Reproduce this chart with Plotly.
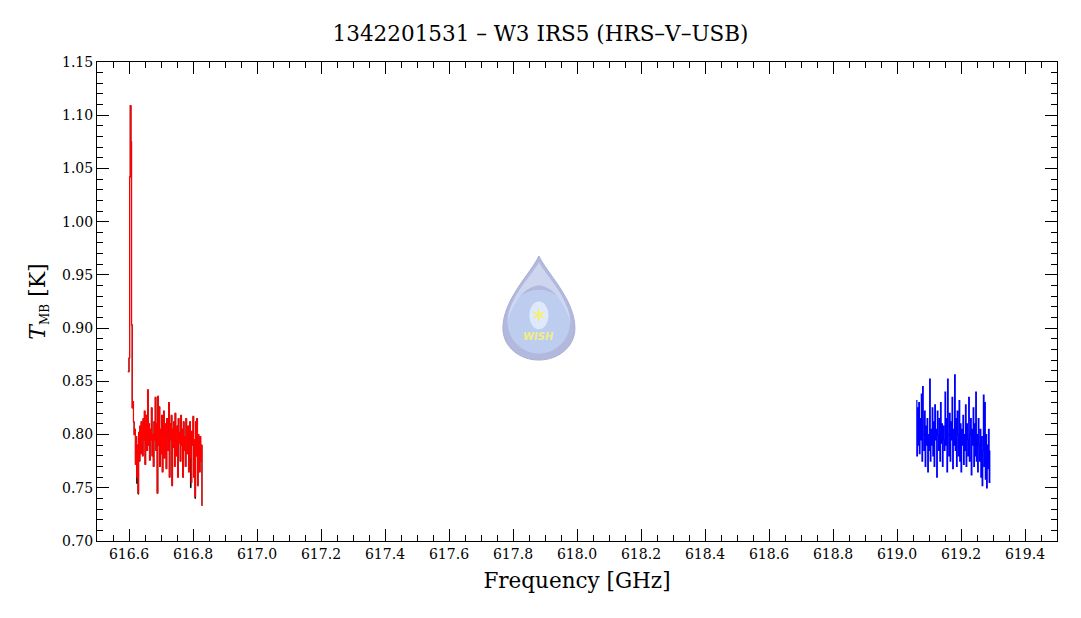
import plotly.graph_objects as go

# ---------------- data ----------------
red_start = 616.598
blue_start = 619.060
chan_step = 0.002

red_vals = [
    0.859, 0.872, 1.042, 1.109, 1.075, 0.903, 0.825, 0.831, 0.812, 0.800,
    0.805, 0.772, 0.798, 0.760, 0.790, 0.745, 0.802, 0.775, 0.808, 0.782, 0.812, 0.790,
    0.780, 0.815, 0.795, 0.822, 0.772, 0.800, 0.818, 0.785, 0.842, 0.790, 0.810, 0.776,
    0.805, 0.795, 0.825, 0.780, 0.800, 0.770, 0.812,
    0.795, 0.835, 0.785, 0.810, 0.745, 0.836, 0.790, 0.826, 0.770, 0.805, 0.782, 0.818,
    0.765, 0.800, 0.822, 0.778, 0.810, 0.790, 0.768, 0.815,
    0.800, 0.785, 0.830, 0.760, 0.810, 0.795, 0.818, 0.752, 0.805, 0.788, 0.812, 0.770,
    0.820, 0.795, 0.780, 0.808, 0.760, 0.815, 0.792, 0.802,
    0.775, 0.818, 0.790, 0.805, 0.760, 0.812, 0.785, 0.798, 0.770, 0.815, 0.800, 0.782,
    0.808, 0.765, 0.795, 0.812, 0.778, 0.755, 0.803, 0.790,
    0.817, 0.760, 0.795, 0.742, 0.812, 0.780, 0.815, 0.752, 0.800, 0.788, 0.765, 0.798,
    0.775, 0.790, 0.733,
]

blue_vals = [
    0.832, 0.780, 0.825, 0.790, 0.830, 0.782, 0.815, 0.795, 0.838, 0.775, 0.845, 0.800,
    0.785, 0.822, 0.770, 0.808, 0.790, 0.815, 0.765, 0.800,
    0.785, 0.852, 0.775, 0.805, 0.790, 0.825, 0.780, 0.812, 0.770, 0.828, 0.795, 0.805,
    0.760, 0.822, 0.800, 0.785, 0.815, 0.775, 0.830, 0.792,
    0.810, 0.770, 0.808, 0.795, 0.785, 0.840, 0.790, 0.815, 0.765, 0.852, 0.800, 0.780,
    0.820, 0.775, 0.812, 0.795, 0.835, 0.768, 0.805, 0.790,
    0.856, 0.785, 0.815, 0.770, 0.822, 0.800, 0.780, 0.832, 0.775, 0.810, 0.765, 0.805,
    0.790, 0.818, 0.772, 0.800, 0.785, 0.828, 0.770, 0.810,
    0.795, 0.780, 0.835, 0.775, 0.800, 0.815, 0.762, 0.805, 0.790, 0.825, 0.770, 0.810,
    0.780, 0.840, 0.775, 0.800, 0.765, 0.815, 0.790, 0.775,
    0.805, 0.760, 0.798, 0.752, 0.785, 0.837, 0.770, 0.830, 0.758, 0.800, 0.750, 0.790,
    0.768, 0.805, 0.755, 0.785,
]

# underlying black spectrum: same channels, with a few deeper channels
black_dips = [(13, 0.754), (15, 0.744), (97, 0.750), (104, 0.740)]

x_ticks = [616.6, 616.8, 617.0, 617.2, 617.4, 617.6, 617.8, 618.0, 618.2, 618.4,
           618.6, 618.8, 619.0, 619.2, 619.4]
y_ticks = [0.70, 0.75, 0.80, 0.85, 0.90, 0.95, 1.00, 1.05, 1.10, 1.15]

title_text = "1342201531 – W3 IRS5 (HRS–V–USB)"

# ---------------- build ----------------
red_x = [round(red_start + i * chan_step, 4) for i in range(len(red_vals))]
blue_x = [round(blue_start + i * chan_step, 4) for i in range(len(blue_vals))]
black_vals = list(red_vals)
for i, v in black_dips:
    black_vals[i] = v
black_x = [round(red_start - chan_step, 4)] + red_x
black_vals = [red_vals[0]] + black_vals

SERIF = "DejaVu Serif, serif"

fig = go.Figure()
fig.add_trace(go.Scatter(x=black_x, y=black_vals, mode="lines", line=dict(color="black", width=1, shape="hv"),
                         hoverinfo="skip", showlegend=False))
fig.add_trace(go.Scatter(x=red_x, y=red_vals, mode="lines", line=dict(color="red", width=1.2, shape="hv"),
                         showlegend=False))
fig.add_trace(go.Scatter(x=blue_x, y=blue_vals, mode="lines", line=dict(color="blue", width=1.2, shape="hv"),
                         showlegend=False))

# WISH logo (decoration) in data coordinates
cx = 617.881
drop = ("M 617.881,0.9678 "
        "C 617.905,0.952 617.9935,0.927 617.9935,0.900 "
        "C 617.9935,0.882 617.94,0.870 617.881,0.870 "
        "C 617.822,0.870 617.7685,0.882 617.7685,0.900 "
        "C 617.7685,0.927 617.857,0.952 617.881,0.9678 Z")
fig.add_shape(type="path", path=drop, fillcolor="#b3b9dc", line=dict(color="#a7afd6", width=1), layer="above")
fig.add_shape(type="circle", x0=cx - 0.098, x1=cx + 0.098, y0=0.876, y1=0.936,
              fillcolor="rgba(190,208,242,0.85)", line=dict(width=0), layer="above")
highlight = ("M 617.881,0.962 "
             "C 617.90,0.950 617.975,0.930 617.98,0.905 "
             "C 617.95,0.935 617.90,0.940 617.881,0.940 "
             "C 617.862,0.940 617.81,0.935 617.782,0.905 "
             "C 617.787,0.930 617.862,0.950 617.881,0.962 Z")
fig.add_shape(type="path", path=highlight, fillcolor="rgba(212,220,244,0.8)", line=dict(width=0), layer="above")
fig.add_shape(type="circle", x0=cx - 0.03, x1=cx + 0.03, y0=0.899, y1=0.925,
              fillcolor="rgba(225,236,255,0.9)", line=dict(width=0), layer="above")
fig.add_annotation(x=cx, y=0.9115, text="✶", showarrow=False,
                   font=dict(family="DejaVu Sans", size=22, color="#f3ef7a"))
fig.add_annotation(x=cx, y=0.892, text="<b><i>WISH</i></b>", showarrow=False,
                   font=dict(family="DejaVu Sans", size=10, color="#f1ed86"))

axis_common = dict(
    showline=True, linecolor="black", linewidth=1, mirror="allticks",
    ticks="inside", ticklen=12, tickwidth=1, tickcolor="black",
    showgrid=False, zeroline=False, automargin=False,
    tickfont=dict(family=SERIF, size=14, color="black"),
)

fig.update_xaxes(range=[616.5, 619.5], tickvals=x_ticks, ticktext=[f"{v:.1f}" for v in x_ticks],
                 minor=dict(dtick=0.05, tick0=616.5, ticks="inside", ticklen=6, tickcolor="black", showgrid=False),
                 title=dict(text="Frequency [GHz]", font=dict(family=SERIF, size=21.5, color="black"), standoff=12),
                 **axis_common)
fig.update_yaxes(range=[0.70, 1.15], tickvals=y_ticks, ticktext=[f"{v:.2f}" for v in y_ticks],
                 minor=dict(dtick=0.01, tick0=0.70, ticks="inside", ticklen=6, tickcolor="black", showgrid=False),
                 title=dict(text="<i>T</i><sub><span style='font-size:12px'>MB</span></sub> [K]",
                            font=dict(family=SERIF, size=22, color="black"), standoff=10),
                 **axis_common)

# page body has an 8px margin: size/margins compensate so the plot frame lands where the reference has it
fig.update_layout(
    width=1065, height=602,
    margin=dict(l=89, r=16, t=54, b=69),
    paper_bgcolor="white", plot_bgcolor="white",
    title=dict(text=title_text, x=0.5, xanchor="center", y=0.958, yanchor="middle",
               font=dict(family=SERIF, size=21.5, color="black")),
    showlegend=False,
)

fig.write_html("out.html")
